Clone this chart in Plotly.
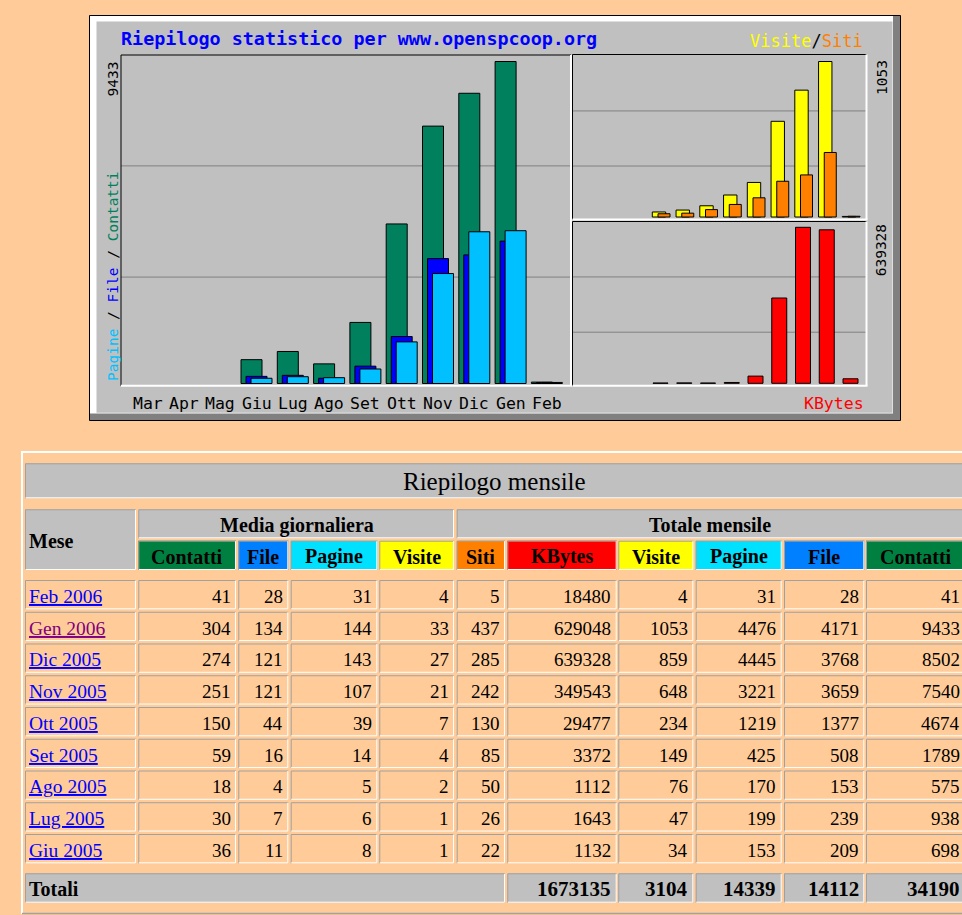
import plotly.graph_objects as go

W, H = 962, 915

# ---------------- data ----------------
chart_months = ["Mar", "Apr", "Mag", "Giu", "Lug", "Ago", "Set", "Ott", "Nov", "Dic", "Gen", "Feb"]

table_months = ["Feb 2006", "Gen 2006", "Dic 2005", "Nov 2005", "Ott 2005",
                "Set 2005", "Ago 2005", "Lug 2005", "Giu 2005"]
avg_contatti = [41, 304, 274, 251, 150, 59, 18, 30, 36]
avg_file = [28, 134, 121, 121, 44, 16, 4, 7, 11]
avg_pagine = [31, 144, 143, 107, 39, 14, 5, 6, 8]
avg_visite = [4, 33, 27, 21, 7, 4, 2, 1, 1]
tot_siti = [5, 437, 285, 242, 130, 85, 50, 26, 22]
tot_kbytes = [18480, 629048, 639328, 349543, 29477, 3372, 1112, 1643, 1132]
tot_visite = [4, 1053, 859, 648, 234, 149, 76, 47, 34]
tot_pagine = [31, 4476, 4445, 3221, 1219, 425, 170, 199, 153]
tot_file = [28, 4171, 3768, 3659, 1377, 508, 153, 239, 209]
tot_contatti = [41, 9433, 8502, 7540, 4674, 1789, 575, 938, 698]

header_labels = ["Contatti", "File", "Pagine", "Visite", "Siti",
                 "KBytes", "Visite", "Pagine", "File", "Contatti"]

# ---------------- styling ----------------
PAGE_BG = "#FFCC99"
GRAY = "#C0C0C0"
MONO = "DejaVu Sans Mono"
SERIF = "Liberation Serif"

G_HIT, G_FILE, G_PAGE = "#00805C", "#0000FF", "#00C0FF"
G_VISIT, G_SITE, G_KB = "#FFFF00", "#FF8000", "#FF0000"

T_HIT, T_FILE, T_PAGE = "#008040", "#0080FF", "#00E0FF"
T_VISIT, T_SITE, T_KB = "#FFFF00", "#FF8000", "#FF0000"
header_colors = [T_HIT, T_FILE, T_PAGE, T_VISIT, T_SITE, T_KB, T_VISIT, T_PAGE, T_FILE, T_HIT]


def fx(px):
    return px / W


def fy(py):
    return 1 - py / H


def slot_range(dom_l, dom_r, anchor_px, slot_px, anchor_slot=3):
    return [anchor_slot - (anchor_px - dom_l) / slot_px,
            anchor_slot + (dom_r - anchor_px) / slot_px]


def value_range(dom_top, dom_bot, zero_px, peak_px, peak_val):
    per = peak_val / (zero_px - peak_px)
    return [-(dom_bot - zero_px) * per, (zero_px - dom_top) * per]


# months without statistics come first in the chart
n_empty = len(chart_months) - len(table_months)
slots = list(range(len(chart_months)))


def chart_series(vals):
    return [None] * n_empty + vals[::-1]


def bar(vals, color, offset, width, xa, ya):
    return go.Bar(x=slots, y=chart_series(vals), offset=offset, width=width,
                  marker=dict(color=color, line=dict(color="black", width=1)),
                  xaxis=xa, yaxis=ya, hoverinfo="skip", showlegend=False)


fig = go.Figure()

U_MAIN = 36.3   # pixels per month, left chart
U_SIDE = 23.75  # pixels per month, right charts

fig.add_trace(bar(tot_contatti, G_HIT, 0, 21 / U_MAIN, "x", "y"))
fig.add_trace(bar(tot_file, G_FILE, 5 / U_MAIN, 21 / U_MAIN, "x", "y"))
fig.add_trace(bar(tot_pagine, G_PAGE, 10 / U_MAIN, 21 / U_MAIN, "x", "y"))
fig.add_trace(bar(tot_visite, G_VISIT, -0.7 / U_SIDE, 13.4 / U_SIDE, "x2", "y2"))
fig.add_trace(bar(tot_siti, G_SITE, 5 / U_SIDE, 12 / U_SIDE, "x2", "y2"))
fig.add_trace(bar(tot_kbytes, G_KB, 0, 15 / U_SIDE, "x3", "y3"))

hidden = dict(visible=False, fixedrange=True)

shapes = []
annotations = []


def rect(x0, y0, x1, y1, fill, line=None, layer="below"):
    return dict(type="rect", xref="paper", yref="paper",
                x0=fx(x0), x1=fx(x1), y0=fy(y1), y1=fy(y0),
                fillcolor=fill, line=line if line else dict(width=0), layer=layer)


def seg(x0, y0, x1, y1, color, w, layer="above"):
    return dict(type="line", xref="paper", yref="paper",
                x0=fx(x0), x1=fx(x1), y0=fy(y0), y1=fy(y1),
                line=dict(color=color, width=w), layer=layer)


def text(t, x, y, size, family=SERIF, color="black", xanchor="center",
         yanchor="middle", xref="paper", yref="paper", angle=0, yshift=0):
    return dict(text=t, showarrow=False,
                x=fx(x) if xref == "paper" else x,
                y=fy(y) if yref == "paper" else y,
                xref=xref, yref=yref, xanchor=xanchor, yanchor=yanchor,
                textangle=angle, yshift=yshift,
                font=dict(family=family, size=size, color=color))


# ---------------- chart frame ----------------
shapes.append(rect(89.5, 15.5, 900.5, 420.5, "#808080", line=dict(color="black", width=1)))
shapes.append(rect(90, 16, 893, 413.5, "#FFFFFF"))
shapes.append(rect(96.5, 21.5, 892.5, 412.7, GRAY))

# horizontal guide lines inside each plot
for xr, yr, fracs in [("x domain", "y domain", (0.327, 0.664)),
                      ("x2 domain", "y2 domain", (0.322, 0.657)),
                      ("x3 domain", "y3 domain", (0.326, 0.664))]:
    for f in fracs:
        shapes.append(dict(type="line", xref=xr, yref=yr, x0=0, x1=1, y0=f, y1=f,
                           line=dict(color="#808080", width=1), layer="below"))

# sunken plot boxes
for (l, t, r, b) in [(121, 55, 571, 385.8), (572.5, 54.5, 866.5, 219.5), (572.5, 221.5, 866.5, 385.8)]:
    shapes.append(seg(l, t, r, t, "black", 1))
    shapes.append(seg(l, t, l, b, "black", 1))
    shapes.append(seg(l, b, r + 1, b, "white", 2))
    shapes.append(seg(r, t, r, b, "white", 2))

# chart texts
annotations.append(text("<b>Riepilogo statistico per www.openspcoop.org</b>", 119, 38.5, 18.4,
                        family=MONO, color="#0000FF", xanchor="left"))
annotations.append(text('<span style="color:%s">Visite</span>/<span style="color:%s">Siti</span>'
                        % (G_VISIT, G_SITE), 865, 41.3, 17, family=MONO, xanchor="right"))
annotations.append(text("KBytes", 866, 403, 16.5, family=MONO, color=G_KB, xanchor="right"))
annotations.append(text('<span style="color:%s">Pagine</span> / <span style="color:%s">File</span>'
                        ' / <span style="color:%s">Contatti</span>' % (G_PAGE, G_FILE, G_HIT),
                        112.5, 383.5, 14.5, family=MONO, yanchor="bottom", angle=-90))
annotations.append(text(str(max(tot_contatti)), 0, max(tot_contatti), 14.5, family=MONO,
                        yanchor="top", yref="y", angle=-90, yshift=1.5))
annotations[-1]["x"] = fx(113)
annotations.append(text(str(max(tot_visite)), 0, max(tot_visite), 14.5, family=MONO,
                        yanchor="top", yref="y2", angle=-90, yshift=3.5))
annotations[-1]["x"] = fx(881.5)
annotations.append(text(str(max(tot_kbytes)), 0, max(tot_kbytes), 14.5, family=MONO,
                        yanchor="top", yref="y3", angle=-90, yshift=5))
annotations[-1]["x"] = fx(881)

for i, m in enumerate(chart_months):
    a = text(m, 0, 403.3, 16.5, family=MONO, xref="x")
    a["x"] = i + 15.5 / U_MAIN
    annotations.append(a)

# ---------------- table ----------------
col_x = [(25, 136), (138.3, 236), (238.3, 288.3), (290.7, 377.3), (379.3, 454),
         (456.7, 505), (507.3, 616.7), (618.3, 693.3), (695.7, 781.7), (784, 864.3), (866, 965)]
gray_edges = []
white_edges = []


def cell(x0, y0, x1, y1, fill=None):
    if fill:
        shapes.append(rect(x0, y0, x1, y1, fill))
    gray_edges.append("M%.6f,%.6f L%.6f,%.6f L%.6f,%.6f" % (
        fx(x0 + 0.5), fy(y1), fx(x0 + 0.5), fy(y0 + 0.5), fx(x1), fy(y0 + 0.5)))
    white_edges.append("M%.6f,%.6f L%.6f,%.6f L%.6f,%.6f" % (
        fx(x1 - 0.5), fy(y0 + 0.5), fx(x1 - 0.5), fy(y1 - 0.5), fx(x0 + 0.5), fy(y1 - 0.5)))


# outer table border
shapes.append(seg(21, 452, 965, 452, "white", 2))
shapes.append(seg(22, 451, 22, 914, "white", 2))
shapes.append(seg(22, 913.5, 965, 913.5, "#A0A0A0", 1.5))

# title row
cell(25, 463.3, 965, 498.3, GRAY)
annotations.append(text("Riepilogo mensile", 494, 481, 25))

# group headers
cell(25, 509.3, 136, 570, GRAY)
annotations.append(text("<b>Mese</b>", 27, 540.7, 20, xanchor="left"))
cell(138.3, 509.3, 454, 538.3, GRAY)
annotations.append(text("<b>Media giornaliera</b>", 296.5, 525, 20))
cell(456.7, 509.3, 965, 538.3, GRAY)
annotations.append(text("<b>Totale mensile</b>", 709.5, 525, 20))

for c, (lab, col) in enumerate(zip(header_labels, header_colors), start=1):
    x0, x1 = col_x[c]
    cell(x0, 540.7, x1, 570, col)
    annotations.append(text("<b>%s</b>" % lab, (x0 + x1) / 2, 556.7, 20))

# monthly rows
columns = [avg_contatti, avg_file, avg_pagine, avg_visite, tot_siti,
           tot_kbytes, tot_visite, tot_pagine, tot_file, tot_contatti]
ROW0, PITCH, ROW_H = 580, 31.75, 29.3
for r, month in enumerate(table_months):
    top = ROW0 + PITCH * r
    for c, (x0, x1) in enumerate(col_x):
        cell(x0, top, x1, top + ROW_H)
    link_color = "#800080" if r == 1 else "#0000FF"
    annotations.append(text("<u>%s</u>" % month, 27, top + 16.3, 19.5, color=link_color, xanchor="left"))
    for c, vals in enumerate(columns, start=1):
        annotations.append(text(str(vals[r]), col_x[c][1] - 3.3, top + 16.3, 19, xanchor="right"))

# totals row
TT, TB = 873.3, 902.7
cell(25, TT, 505, TB, GRAY)
annotations.append(text("<b>Totali</b>", 27, 888.8, 20, xanchor="left"))
for c, vals in zip(range(6, 11), [tot_kbytes, tot_visite, tot_pagine, tot_file, tot_contatti]):
    x0, x1 = col_x[c]
    cell(x0, TT, x1, TB, GRAY)
    annotations.append(text("<b>%d</b>" % sum(vals), x1 - 3.3, 888.8, 21, xanchor="right"))

shapes.append(dict(type="path", xref="paper", yref="paper", path=" ".join(gray_edges),
                   line=dict(color="#A0A0A0", width=1), layer="below"))
shapes.append(dict(type="path", xref="paper", yref="paper", path=" ".join(white_edges),
                   line=dict(color="#FFFFFF", width=1), layer="below"))

fig.update_layout(
    width=W, height=H, autosize=False,
    margin=dict(l=0, r=0, t=0, b=0, pad=0),
    paper_bgcolor=PAGE_BG, plot_bgcolor="rgba(0,0,0,0)",
    barmode="overlay", showlegend=False,
    font=dict(family=SERIF, color="black"),
    xaxis=dict(domain=[fx(121), fx(570)], range=slot_range(121, 570, 241, U_MAIN),
               anchor="y", **hidden),
    yaxis=dict(domain=[fy(385), fy(55)],
               range=value_range(55, 385, 383.5, 61.5, max(tot_contatti)), anchor="x", **hidden),
    xaxis2=dict(domain=[fx(573), fx(866)], range=slot_range(573, 866, 653, U_SIDE),
                anchor="y2", **hidden),
    yaxis2=dict(domain=[fy(219), fy(54.5)],
                range=value_range(54.5, 219, 217, 61.5, max(tot_visite)), anchor="x2", **hidden),
    xaxis3=dict(domain=[fx(573), fx(866)], range=slot_range(573, 866, 653, U_SIDE),
                anchor="y3", **hidden),
    yaxis3=dict(domain=[fy(385.5), fy(222)],
                range=value_range(222, 385.5, 383.3, 227.3, max(tot_kbytes)), anchor="x3", **hidden),
    shapes=shapes,
    annotations=annotations,
)

fig.write_html("out.html", config={"displayModeBar": False, "staticPlot": True})
